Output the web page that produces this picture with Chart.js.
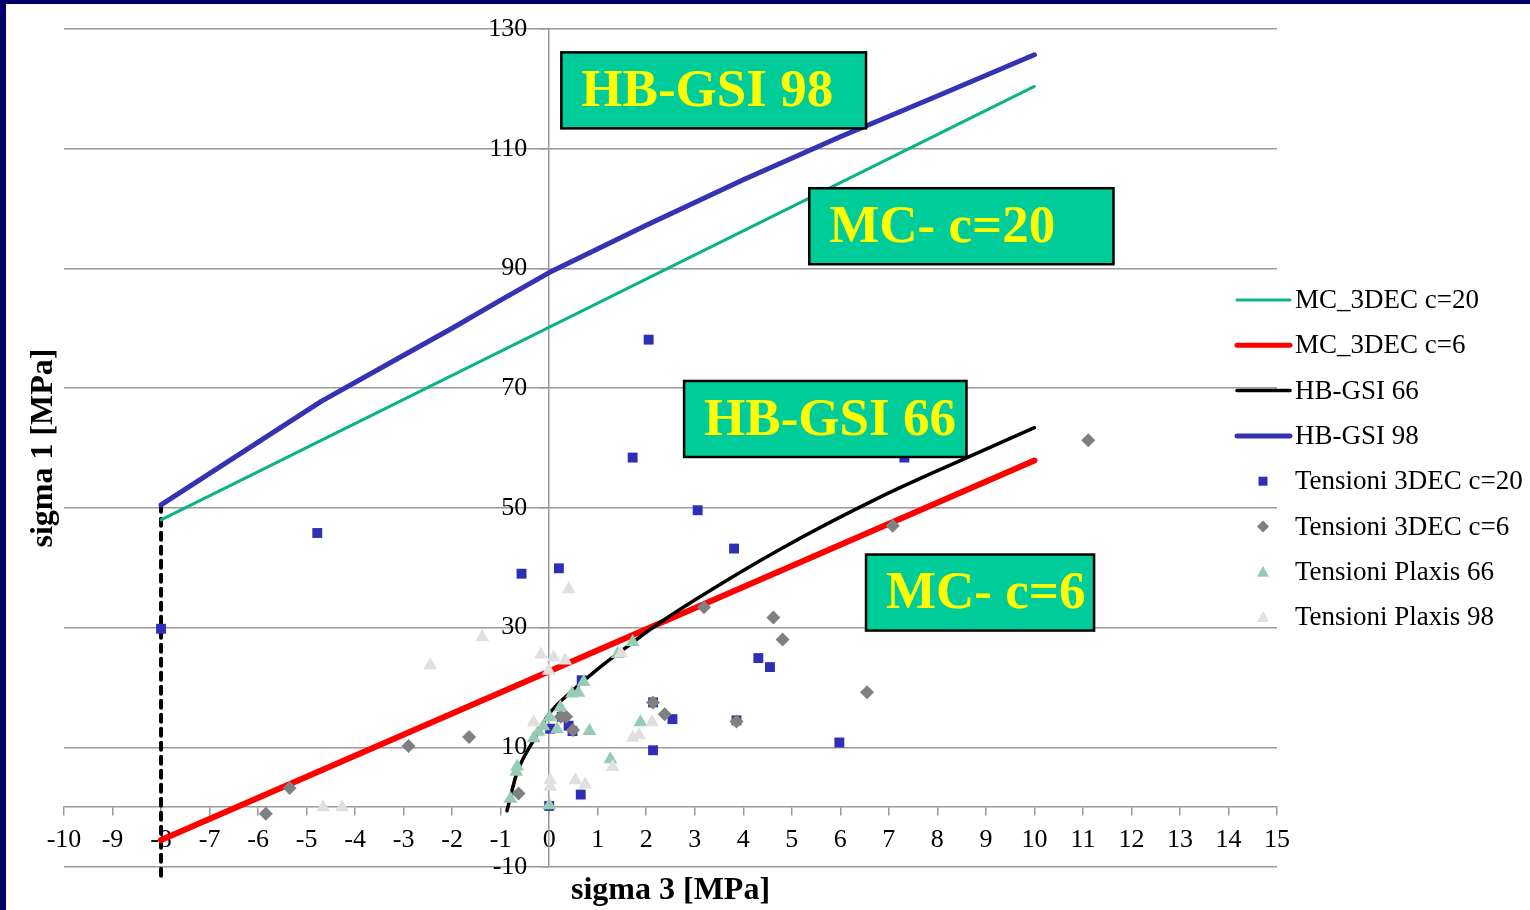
<!DOCTYPE html>
<html><head><meta charset="utf-8">
<script src="https://cdn.jsdelivr.net/npm/chart.js@4.4.1/dist/chart.umd.min.js"></script>
<style>
html,body{margin:0;padding:0;background:#fff;}
#frame{position:absolute;left:0;top:0;width:1524px;height:906px;border-left:6px solid #000066;border-top:4px solid #000066;background:#fff;}
canvas{display:block;}
</style></head><body>
<div id="frame"><canvas id="c" width="1524" height="906"></canvas></div>
<script>
// ---- axis ticks ----
const xMin = -10, xMax = 15, xStep = 1;
const yMin = -10, yMax = 130, yStep = 20;
const yLabelAt = -0.45;   // sigma3 value where the sigma1 tick labels end
const xTitle = 'sigma 3 [MPa]';
const yTitle = 'sigma 1 [MPa]';

// ---- envelope lines ----
const mc20X = [-8, 10];
const mc20Y = [48.0, 120.4];
const mc6X = [-8, 10];
const mc6Y = [-5.5, 57.9];
const hb66X = [-0.87, -0.67, -0.32, 0, 0.5, 1.05, 1.67, 2.1, 3.0, 4.76, 6.82, 8.61, 10];
const hb66Y = [-0.6, 5.6, 11.2, 15.6, 19.6, 23.4, 27.2, 29.8, 34.6, 43.1, 51.8, 58.4, 63.4];
const hb98X = [-8, -4.7, -3, -2, -1, 0, 2, 4, 6, 8, 10];
const hb98Y = [50.5, 67.8, 75.5, 80.0, 84.7, 89.3, 97.2, 104.8, 112.0, 118.8, 125.7];
const cutX = [-8, -8];
const cutY = [50.5, -12];

// ---- stress points ----
const t20X = [-8, -4.78, -0.57, 0.2, 2.05, 1.72, 3.06, 3.81, 7.32, 4.31, 4.55, 5.98, 2.54, 2.14, 2.14, 3.86, 0.67, 0.65, 0, 0.02, 0.26, 0.4, 0.48];
const t20Y = [29.8, 45.8, 39.0, 39.9, 78.1, 58.4, 49.6, 43.2, 58.4, 24.9, 23.4, 10.8, 14.7, 17.5, 9.5, 14.5, 21.2, 2.1, 0.2, 13.1, 15.1, 13.6, 12.7];
const t6X = [-5.84, -5.35, -2.9, -1.65, -0.63, 0.24, 0.35, 0.49, 2.14, 2.38, 3.86, 4.81, 4.62, 3.19, 6.55, 7.08, 11.11];
const t6Y = [-1.1, 3.2, 10.2, 11.7, 2.3, 15.1, 15.1, 12.9, 17.5, 15.5, 14.3, 28.0, 31.7, 33.4, 19.2, 47.0, 61.3];
const p66X = [-0.8, -0.68, -0.66, -0.32, -0.22, -0.12, 0.01, 0.16, 0.23, 0.47, 0.6, 0.71, 0.83, 1.26, 1.41, 1.72, 1.88, 0];
const p66Y = [1.4, 5.9, 6.8, 11.5, 12.6, 13.5, 15.0, 13.0, 16.7, 19.0, 19.1, 20.9, 12.7, 8.0, 25.6, 27.6, 14.2, 0.3];
const p98X = [-4.66, -4.27, -2.45, -1.38, -0.17, 0.09, 0.33, -0.01, 0.4, -0.32, 0.02, 0.02, 0.54, 0.74, 2.12, 1.72, 1.85, 1.31, 1.48];
const p98Y = [0, 0, 23.7, 28.4, 25.5, 25.0, 24.5, 22.8, 36.4, 14.2, 4.5, 3.4, 4.5, 3.8, 14.2, 11.6, 12.0, 6.7, 25.7];

// ---- labels ----
const seriesLabels = ['MC_3DEC c=20', 'MC_3DEC c=6', 'HB-GSI 66', 'HB-GSI 98',
  'Tensioni 3DEC c=20', 'Tensioni 3DEC c=6', 'Tensioni Plaxis 66', 'Tensioni Plaxis 98'];
// callout boxes (data units)
const calloutText = ['HB-GSI 98', 'MC- c=20', 'HB-GSI 66', 'MC- c=6'];
const calloutX0 = [0.25, 5.36, 2.78, 6.53];
const calloutX1 = [6.53, 11.63, 8.60, 11.23];
const calloutYTop = [126.1, 103.4, 71.2, 42.2];
const calloutYBot = [113.4, 90.7, 58.5, 29.5];

const pts = (xs, ys) => xs.map((x, i) => ({x: x, y: ys[i]}));
const SERIF = '"Liberation Serif", "Times New Roman", serif';
const GRID = '#9a9a9a';

function lineDS(label, xs, ys, color, w, order, extra) {
  return Object.assign({label, data: pts(xs, ys), showLine: true, borderColor: color, backgroundColor: color,
    borderWidth: w, pointRadius: 0, pointHoverRadius: 0, borderCapStyle: 'round', borderJoinStyle: 'round',
    order, isLine: true}, extra || {});
}
function ptDS(label, xs, ys, color, style, r, order) {
  return {label, data: pts(xs, ys), showLine: false, pointStyle: style, pointRadius: r, pointHoverRadius: r,
    backgroundColor: color, borderColor: color, borderWidth: 0, order, isLine: false};
}

const datasets = [
  lineDS(seriesLabels[0], mc20X, mc20Y, '#0DB287', 3, 9),
  lineDS(seriesLabels[1], mc6X, mc6Y, '#FF0000', 6, 8),
  lineDS(seriesLabels[2], hb66X, hb66Y, '#000000', 3.5, 7, {cubicInterpolationMode: 'monotone'}),
  lineDS(seriesLabels[3], hb98X, hb98Y, '#3333B3', 5, 6),
  ptDS(seriesLabels[4], t20X, t20Y, '#2F2FB5', 'rect', 7, 4),
  ptDS(seriesLabels[5], t6X, t6Y, '#808080', 'rectRot', 7, 3),
  ptDS(seriesLabels[6], p66X, p66Y, '#96CBB4', 'triangle', 8, 2),
  ptDS(seriesLabels[7], p98X, p98Y, '#E0E0E0', 'triangle', 8, 1),
  lineDS(undefined, cutX, cutY, '#000000', 4, 10, {borderDash: [7, 7], clip: false, noLegend: true})
];

const calloutPlugin = {
  id: 'callouts',
  afterDatasetsDraw(chart) {
    const {ctx, scales: {x, y}} = chart;
    ctx.save();
    calloutText.forEach((t, i) => {
      const l = x.getPixelForValue(calloutX0[i]), r = x.getPixelForValue(calloutX1[i]);
      const tp = y.getPixelForValue(calloutYTop[i]), bt = y.getPixelForValue(calloutYBot[i]);
      ctx.fillStyle = '#00CC99';
      ctx.fillRect(l, tp, r - l, bt - tp);
      ctx.lineWidth = 2.5; ctx.strokeStyle = '#000';
      ctx.strokeRect(l, tp, r - l, bt - tp);
      ctx.fillStyle = '#FFFF00';
      ctx.font = 'bold 53px ' + SERIF;
      ctx.textAlign = 'left'; ctx.textBaseline = 'middle';
      ctx.fillText(t, l + 20, (tp + bt) / 2 + 2);
    });
    ctx.restore();
  },
  afterDraw(chart) {
    const {ctx, chartArea: ca} = chart;
    ctx.save();
    // axis titles
    ctx.fillStyle = '#000';
    ctx.font = 'bold 32px ' + SERIF;
    ctx.textAlign = 'center'; ctx.textBaseline = 'middle';
    ctx.fillText(xTitle, (ca.left + ca.right) / 2, ca.bottom + 24);
    ctx.translate(ca.left - 20, (ca.top + ca.bottom) / 2);
    ctx.rotate(-Math.PI / 2);
    ctx.fillText(yTitle, 0, 0);
    ctx.restore();
    // legend
    ctx.save();
    const items = chart.data.datasets.filter(d => !d.noLegend);
    items.forEach((d, i) => {
      const yy = ca.top + 271 + i * 45.3;
      if (d.isLine) {
        ctx.strokeStyle = d.borderColor; ctx.lineWidth = Math.min(d.borderWidth, 5); ctx.lineCap = 'round';
        ctx.beginPath(); ctx.moveTo(ca.right - 40, yy); ctx.lineTo(ca.right + 13, yy); ctx.stroke();
      } else {
        const cx = ca.right - 14;
        ctx.fillStyle = d.backgroundColor;
        ctx.beginPath();
        if (d.pointStyle === 'rect') { ctx.rect(cx - 4.5, yy - 4.5, 9, 9); }
        else if (d.pointStyle === 'rectRot') { ctx.moveTo(cx, yy - 6); ctx.lineTo(cx + 6, yy); ctx.lineTo(cx, yy + 6); ctx.lineTo(cx - 6, yy); ctx.closePath(); }
        else { ctx.moveTo(cx, yy - 6); ctx.lineTo(cx + 6, yy + 5); ctx.lineTo(cx - 6, yy + 5); ctx.closePath(); }
        ctx.fill();
      }
      ctx.fillStyle = '#000';
      ctx.font = '27px ' + SERIF;
      ctx.textAlign = 'left'; ctx.textBaseline = 'middle';
      ctx.fillText(d.label, ca.right + 18, yy + 1);
    });
    ctx.restore();
  }
};

const tickFont = {family: SERIF, size: 26};

new Chart(document.getElementById('c'), {
  type: 'scatter',
  data: {datasets},
  options: {
    responsive: false, animation: false, devicePixelRatio: 1,
    layout: {padding: {left: 58, top: 25, right: 253, bottom: 43}},
    plugins: {legend: {display: false}, tooltip: {enabled: false}},
    scales: {
      x: {
        type: 'linear', position: {y: 0}, min: xMin, max: xMax,
        ticks: {stepSize: xStep, autoSkip: false, maxRotation: 0, padding: 9, color: '#000', font: tickFont},
        grid: {drawOnChartArea: false, drawTicks: true, tickLength: 8, color: GRID, lineWidth: 1.5},
        border: {display: true, color: GRID, width: 1.5},
        afterFit: s => { s.height = 0; }
      },
      y: {
        type: 'linear', position: {x: 0}, min: yMin, max: yMax,
        ticks: {stepSize: yStep, display: false},
        grid: {drawOnChartArea: true, drawTicks: true, tickLength: 8, color: GRID, lineWidth: 1.5},
        border: {display: true, color: GRID, width: 1.5},
        afterFit: s => { s.width = 0; }
      },
      yLab: {
        type: 'linear', axis: 'y', position: {x: yLabelAt}, min: yMin, max: yMax,
        ticks: {stepSize: yStep, color: '#000', font: tickFont},
        grid: {display: false, drawTicks: false},
        border: {display: false},
        afterFit: s => { s.width = 0; }
      }
    }
  },
  plugins: [calloutPlugin]
});
</script>
</body></html>
